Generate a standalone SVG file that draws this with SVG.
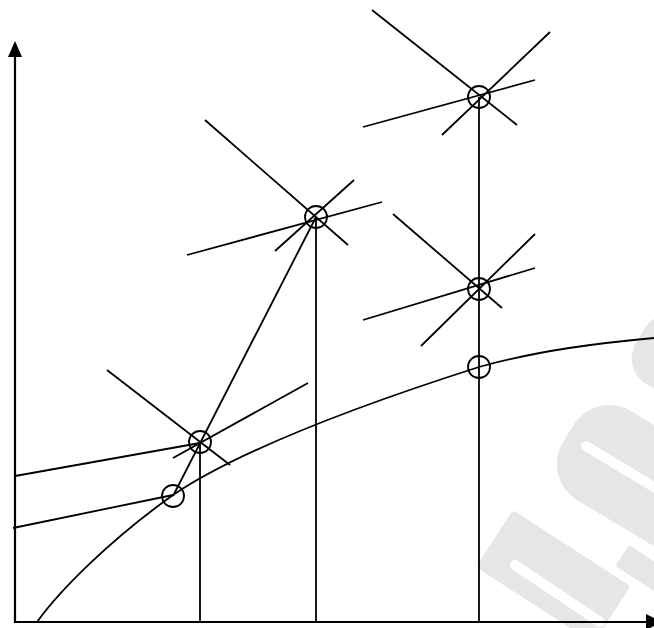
<svg xmlns="http://www.w3.org/2000/svg" width="654" height="628" viewBox="0 0 654 628">
<style>
.ln{stroke:#000;stroke-width:1.8;fill:none;stroke-linecap:butt}
.ax{stroke:#000;stroke-width:2.2;fill:none}
.pt{stroke:#000;stroke-width:1.8;fill:none}
.wm{fill:#e6e6e6}
.ws{stroke:#fff;stroke-width:10;stroke-linecap:round;fill:none}
</style>
<rect width="654" height="628" fill="#fff"/>
<g id="watermark">
  <g transform="translate(568,434) rotate(31)">
    <rect class="wm" x="0" y="-52" width="200" height="104" rx="42"/>
  </g>
  <line class="ws" x1="586" y1="446" x2="690" y2="509"/>
  <g transform="translate(640,336) rotate(31)">
    <rect class="wm" x="0" y="-38" width="120" height="76" rx="30"/>
  </g>
  <g transform="translate(629,545) rotate(33)">
    <rect class="wm" x="0" y="0" width="60" height="25"/>
  </g>
  <g transform="translate(513,510) rotate(33)">
    <rect class="wm" x="0" y="0" width="140" height="68" rx="4"/>
  </g>
  <line class="ws" x1="515" y1="565" x2="600" y2="622"/>
</g>
<g id="axes">
  <line class="ax" x1="15" y1="623" x2="15" y2="55"/>
  <polygon points="15,41 8,57 22,57" fill="#000"/>
  <line class="ax" x1="14" y1="622" x2="648" y2="622"/>
  <polygon points="646,614 646,630 662,622" fill="#000"/>
</g>
<g id="curve">
  <path class="ln" d="M37,622 C60,590 110,540 173,495 C240,450 360,405 479,367 C540,350 600,343 654,338"/>
</g>
<g id="connectors">
  <line class="ln" x1="200" y1="442" x2="200" y2="622"/>
  <line class="ln" x1="316" y1="217" x2="316" y2="622"/>
  <line class="ln" x1="479" y1="97" x2="479" y2="622"/>
  <line class="ln" x1="173" y1="496" x2="316" y2="217"/>
  <line class="ln" x1="13" y1="528" x2="173" y2="495"/>
</g>
<g id="node-p1">
  <circle class="pt" cx="200" cy="442" r="11"/>
  <line class="ln" x1="107" y1="370" x2="230" y2="465"/>
  <line class="ln" x1="173" y1="458" x2="308" y2="383"/>
  <line class="ln" x1="15" y1="476" x2="200" y2="443"/>
</g>
<g id="node-p0">
  <circle class="pt" cx="173" cy="496" r="11"/>
</g>
<g id="node-p2">
  <circle class="pt" cx="316" cy="217" r="11"/>
  <line class="ln" x1="205" y1="120" x2="348" y2="245"/>
  <line class="ln" x1="275" y1="251" x2="354" y2="180"/>
  <line class="ln" x1="187" y1="255" x2="382" y2="202"/>
</g>
<g id="node-p3">
  <circle class="pt" cx="479" cy="97" r="11"/>
  <line class="ln" x1="372" y1="10" x2="517" y2="125"/>
  <line class="ln" x1="442" y1="135" x2="550" y2="32"/>
  <line class="ln" x1="363" y1="127" x2="535" y2="80"/>
</g>
<g id="node-p4">
  <circle class="pt" cx="479" cy="289" r="11"/>
  <line class="ln" x1="393" y1="214" x2="502" y2="308"/>
  <line class="ln" x1="421" y1="346" x2="535" y2="234"/>
  <line class="ln" x1="363" y1="320" x2="535" y2="268"/>
</g>
<g id="node-p5">
  <circle class="pt" cx="479" cy="367" r="11"/>
</g>
</svg>
